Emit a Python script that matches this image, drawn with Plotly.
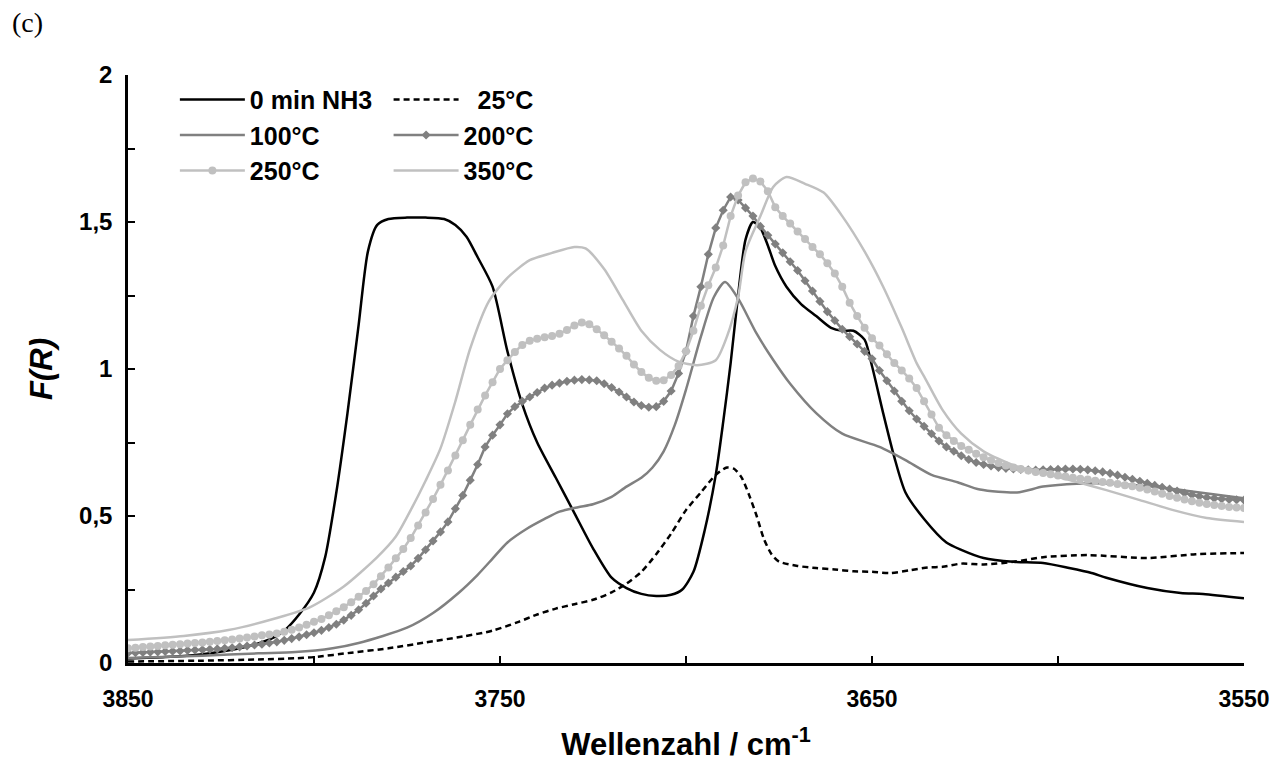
import plotly.graph_objects as go

# ---------------- data ----------------
# dense 2 cm-1 grid for the marker series
wn_grid = list(range(3850, 3549, -2))

f_200 = [
    0.034, 0.035, 0.036, 0.037, 0.038, 0.039, 0.040, 0.041, 0.043, 0.044,
    0.045, 0.047, 0.048, 0.050, 0.052, 0.055, 0.058, 0.061, 0.064, 0.068,
    0.072, 0.077, 0.083, 0.089, 0.096, 0.103, 0.111, 0.121, 0.132, 0.146,
    0.162, 0.181, 0.203, 0.228, 0.252, 0.272, 0.292, 0.311, 0.330, 0.356,
    0.385, 0.415, 0.446, 0.480, 0.525, 0.570, 0.622, 0.675, 0.735, 0.775,
    0.810, 0.848, 0.872, 0.890, 0.905, 0.920, 0.935, 0.945, 0.952, 0.958,
    0.962, 0.964, 0.963, 0.960, 0.950, 0.937, 0.922, 0.905, 0.888, 0.876,
    0.870, 0.872, 0.890, 0.925, 0.985, 1.060, 1.180, 1.280, 1.390, 1.480,
    1.540, 1.585, 1.575, 1.548, 1.520, 1.485, 1.455, 1.425, 1.395, 1.365,
    1.335, 1.300, 1.265, 1.230, 1.195, 1.165, 1.135, 1.110, 1.085, 1.060,
    1.035, 0.995, 0.960, 0.925, 0.890, 0.858, 0.830, 0.805, 0.780, 0.755,
    0.735, 0.720, 0.705, 0.692, 0.682, 0.675, 0.670, 0.665, 0.662, 0.660,
    0.658, 0.657, 0.656, 0.657, 0.658, 0.659, 0.660, 0.660, 0.659, 0.657,
    0.654, 0.650, 0.645, 0.639, 0.632, 0.625, 0.618, 0.611, 0.604, 0.598,
    0.592, 0.585, 0.578, 0.572, 0.567, 0.563, 0.560, 0.558, 0.556, 0.555,
    0.554,
]

f_250 = [
    0.050, 0.052, 0.054, 0.056, 0.058, 0.060, 0.062, 0.064, 0.066, 0.068,
    0.070, 0.072, 0.075, 0.077, 0.080, 0.083, 0.087, 0.090, 0.094, 0.097,
    0.100, 0.106, 0.113, 0.121, 0.130, 0.140, 0.150, 0.162, 0.176, 0.190,
    0.207, 0.225, 0.245, 0.268, 0.295, 0.325, 0.356, 0.388, 0.425, 0.468,
    0.512, 0.558, 0.606, 0.655, 0.706, 0.758, 0.810, 0.862, 0.910, 0.955,
    1.000, 1.030, 1.058, 1.082, 1.096, 1.103, 1.108, 1.112, 1.120, 1.133,
    1.148, 1.158, 1.152, 1.135, 1.115, 1.093, 1.070, 1.045, 1.015, 0.990,
    0.970, 0.960, 0.962, 0.980, 1.010, 1.060, 1.130, 1.215, 1.285, 1.345,
    1.420, 1.520, 1.590, 1.635, 1.648, 1.638, 1.605, 1.550, 1.520, 1.495,
    1.468, 1.442, 1.415, 1.390, 1.360, 1.325, 1.280, 1.225, 1.180, 1.140,
    1.105, 1.080, 1.050, 1.020, 0.995, 0.968, 0.935, 0.890, 0.845, 0.800,
    0.775, 0.755, 0.738, 0.725, 0.712, 0.700, 0.690, 0.680, 0.672, 0.665,
    0.660, 0.655, 0.650, 0.646, 0.642, 0.638, 0.634, 0.630, 0.627, 0.624,
    0.620, 0.616, 0.613, 0.609, 0.605, 0.601, 0.596, 0.590, 0.583, 0.576,
    0.568, 0.562, 0.556, 0.550, 0.545, 0.541, 0.537, 0.534, 0.531, 0.529,
    0.527,
]

wn_0min = [3850, 3840, 3830, 3820, 3812, 3808, 3804, 3800, 3797, 3794, 3791, 3788,
           3785.5, 3783, 3780, 3775, 3770, 3765, 3762, 3759, 3756, 3752, 3748, 3744,
           3740, 3735, 3730, 3725, 3720, 3716, 3712, 3708, 3704, 3701, 3698, 3695,
           3692, 3690, 3688, 3686, 3684, 3682, 3680, 3678, 3676, 3673, 3669, 3665,
           3661, 3658, 3655, 3652, 3650, 3647, 3644, 3641, 3636, 3630, 3626, 3620,
           3612, 3604, 3597, 3591, 3587, 3576, 3567, 3561, 3550]
f_0min = [0.015, 0.02, 0.03, 0.05, 0.08, 0.11, 0.165, 0.24, 0.36, 0.58, 0.85, 1.15,
          1.40, 1.49, 1.51, 1.515, 1.515, 1.51, 1.49, 1.45, 1.38, 1.28, 1.06, 0.88,
          0.75, 0.63, 0.51, 0.39, 0.29, 0.255, 0.235, 0.228, 0.232, 0.25, 0.31, 0.45,
          0.64, 0.82, 1.02, 1.25, 1.44, 1.50, 1.48, 1.42, 1.35, 1.28, 1.22, 1.18,
          1.14, 1.13, 1.13, 1.10, 1.01, 0.85, 0.70, 0.58, 0.49, 0.41, 0.385, 0.357,
          0.344, 0.34, 0.323, 0.306, 0.29, 0.255, 0.238, 0.235, 0.22]

wn_25 = [3850, 3830, 3815, 3805, 3800, 3790, 3780, 3770, 3760, 3752, 3745, 3740,
         3735, 3730, 3725, 3720, 3716, 3712, 3708, 3704, 3700, 3696, 3692, 3689,
         3687, 3685, 3683, 3681, 3679, 3677, 3675, 3670, 3665, 3660, 3655, 3650,
         3645, 3640, 3635, 3631, 3626, 3620, 3612, 3604, 3592, 3576, 3563, 3550]
f_25 = [0.005, 0.008, 0.012, 0.016, 0.02, 0.035, 0.05, 0.07, 0.09, 0.11, 0.14, 0.165,
        0.185, 0.20, 0.215, 0.24, 0.27, 0.31, 0.37, 0.44, 0.52, 0.58, 0.64, 0.665,
        0.66, 0.63, 0.57, 0.50, 0.42, 0.37, 0.345, 0.33, 0.323, 0.318, 0.312, 0.31,
        0.306, 0.315, 0.325, 0.327, 0.338, 0.335, 0.344, 0.36, 0.367, 0.357, 0.37, 0.374]

wn_100 = [3850, 3830, 3815, 3805, 3795, 3788, 3775, 3768, 3761, 3756, 3752, 3748,
          3743, 3738, 3734, 3729, 3725, 3720, 3716, 3712, 3709, 3706, 3703, 3700,
          3696, 3692.5, 3689.5, 3686, 3681, 3676.5, 3672, 3665, 3658, 3648, 3641,
          3634, 3627, 3621, 3611, 3604, 3595, 3585, 3575, 3565, 3550]
f_100 = [0.017, 0.025, 0.033, 0.037, 0.05, 0.068, 0.12, 0.17, 0.24, 0.30, 0.355, 0.41,
         0.455, 0.49, 0.515, 0.53, 0.54, 0.565, 0.60, 0.63, 0.665, 0.72, 0.81, 0.93,
         1.11, 1.245, 1.296, 1.24, 1.12, 1.03, 0.95, 0.85, 0.78, 0.735, 0.69,
         0.64, 0.615, 0.59, 0.58, 0.60, 0.61, 0.61, 0.60, 0.585, 0.56]

wn_350 = [3850, 3835, 3823, 3810, 3801, 3792, 3783, 3778, 3774, 3770, 3766, 3762,
          3758, 3753, 3748, 3742, 3736, 3730, 3727, 3722, 3717, 3712, 3707, 3702,
          3697, 3692, 3689, 3686, 3684, 3680, 3676.5, 3673, 3668, 3663, 3658, 3652,
          3647, 3642, 3638, 3636, 3631, 3626, 3620, 3612, 3604, 3595, 3587, 3578,
          3569, 3560, 3550]
f_350 = [0.078, 0.092, 0.112, 0.153, 0.19, 0.26, 0.36, 0.43, 0.52, 0.62, 0.73, 0.89,
         1.07, 1.23, 1.31, 1.37, 1.395, 1.415, 1.41, 1.34, 1.235, 1.13, 1.065, 1.025,
         1.013, 1.03, 1.11, 1.245, 1.40, 1.52, 1.62, 1.653, 1.63, 1.60, 1.52, 1.40,
         1.28, 1.14, 1.02, 0.975, 0.86, 0.78, 0.72, 0.673, 0.646, 0.616, 0.588, 0.554,
         0.52, 0.493, 0.48]

names = ["0 min NH3", "25°C", "100°C", "200°C", "250°C", "350°C"]
x_ticks = [3850, 3750, 3650, 3550]
y_ticks = [0, 0.5, 1, 1.5, 2]
y_ticktext = ["0", "0,5", "1", "1,5", "2"]

# ---------------- figure ----------------
FONT = "Liberation Sans, Arial, sans-serif"
BLACK = "#000000"
MID = "#808080"
LIGHT = "#C0C0C0"

fig = go.Figure()

fig.add_trace(go.Scatter(x=wn_0min, y=f_0min, name=names[0], mode="lines",
                         line=dict(color=BLACK, width=2.5, shape="spline", smoothing=0.7),
                         legend="legend", legendgroup="a"))
fig.add_trace(go.Scatter(x=wn_25, y=f_25, name="\u2007" + names[1], mode="lines",
                         line=dict(color=BLACK, width=2.5, dash="6px,4px", shape="spline", smoothing=0.7),
                         legend="legend2", legendgroup="b"))
fig.add_trace(go.Scatter(x=wn_100, y=f_100, name=names[2], mode="lines",
                         line=dict(color=MID, width=2.5, shape="spline", smoothing=0.7),
                         legend="legend", legendgroup="c"))
fig.add_trace(go.Scatter(x=wn_grid, y=f_200, name=names[3], mode="lines+markers",
                         line=dict(color=MID, width=2.5),
                         marker=dict(symbol="diamond", size=7, color=MID),
                         legend="legend2", legendgroup="d"))
fig.add_trace(go.Scatter(x=wn_grid, y=f_250, name=names[4], mode="lines+markers",
                         line=dict(color=LIGHT, width=2.5),
                         marker=dict(symbol="circle", size=8, color=LIGHT),
                         legend="legend", legendgroup="e"))
fig.add_trace(go.Scatter(x=wn_350, y=f_350, name=names[5], mode="lines",
                         line=dict(color=LIGHT, width=2.5, shape="spline", smoothing=0.7),
                         legend="legend2", legendgroup="f"))

legend_common = dict(
    yanchor="top", xanchor="left", y=0.997,
    bgcolor="rgba(0,0,0,0)", borderwidth=0,
    font=dict(family=FONT, size=25, color=BLACK, weight="bold"),
    itemwidth=65, traceorder="grouped", tracegroupgap=0,
    orientation="v",
)

# the page body adds an 8 px offset, so the figure is kept smaller than the window
fig.update_layout(
    width=1274, height=760,
    margin=dict(l=120, r=28, t=67, b=105),
    paper_bgcolor="white", plot_bgcolor="white",
    separators=",.",
    font=dict(family=FONT, color=BLACK),
    showlegend=True,
    legend=dict(x=0.042, **legend_common),
    legend2=dict(x=0.2335, **legend_common),
    xaxis=dict(
        range=[3850, 3550], tickmode="array", tickvals=x_ticks,
        ticks="inside", ticklen=7, tickwidth=2, tickcolor=BLACK,
        minor=dict(tickmode="linear", tick0=3550, dtick=50, ticks="inside",
                   ticklen=7, tickwidth=2, tickcolor=BLACK),
        showline=True, linewidth=2.5, linecolor=BLACK,
        showgrid=False, zeroline=False,
        tickfont=dict(family=FONT, size=23, color=BLACK, weight="bold"),
        ticklabeloverflow="allow",
        ticklabelstandoff=14,
        title=dict(text="Wellenzahl / cm<sup>-1</sup>",
                   font=dict(family=FONT, size=31, color=BLACK, weight="bold"),
                   standoff=22),
    ),
    yaxis=dict(
        range=[0, 2], tickmode="array", tickvals=y_ticks, ticktext=y_ticktext,
        ticks="inside", ticklen=7, tickwidth=2, tickcolor=BLACK,
        minor=dict(tickmode="linear", tick0=0, dtick=0.25, ticks="inside",
                   ticklen=7, tickwidth=2, tickcolor=BLACK),
        showline=True, linewidth=2.5, linecolor=BLACK,
        showgrid=False, zeroline=False,
        tickfont=dict(family=FONT, size=24, color=BLACK, weight="bold"),
        ticklabelstandoff=8,
        title=dict(text="<i>F(R)</i>",
                   font=dict(family=FONT, size=31, color=BLACK, weight="bold"),
                   standoff=18),
    ),
    annotations=[dict(
        text="(c)", xref="paper", yref="paper", x=-0.106, y=1.09,
        xanchor="left", yanchor="middle", showarrow=False,
        font=dict(family="Liberation Serif, Times New Roman, serif", size=28, color=BLACK),
    )],
)

fig.write_html("out.html")
